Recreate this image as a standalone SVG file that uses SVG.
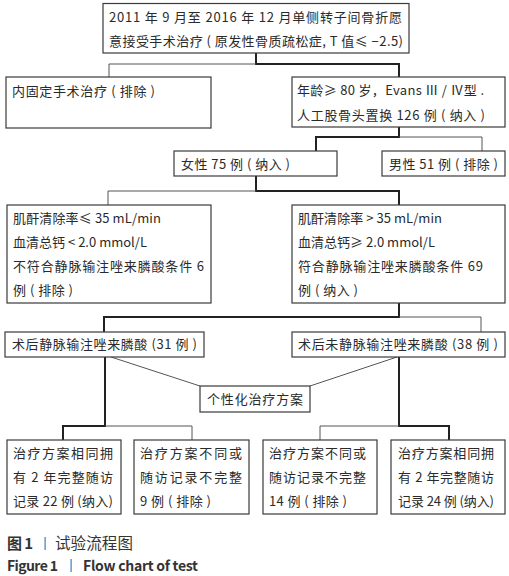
<svg xmlns="http://www.w3.org/2000/svg" width="509" height="576" viewBox="0 0 509 576">
<style>
.box{fill:#fff;stroke:#3a3a3a;stroke-width:1.2}
.t{font-family:"Noto Sans CJK SC","Noto Sans",sans-serif;font-size:13px;fill:#2a2a2a}
.thick{stroke:#222;stroke-width:2;fill:none}
.thin{stroke:#555;stroke-width:1;fill:none}
.cap{font-family:"Noto Sans CJK SC","Noto Sans",sans-serif;fill:#333}
.sep{fill:#3d7fc0}
</style>
<rect width="509" height="576" fill="#fff"/>
<g id="connectors">
<path class="thick" d="M256 53V64H399V77"/>
<path class="thin" d="M256 64H109V77"/>
<path class="thick" d="M399 127V137H316V151"/>
<path class="thin" d="M399 137H482V151"/>
<path class="thick" d="M256 176V191H399V205"/>
<path class="thin" d="M256 191H108V205"/>
<path class="thick" d="M399 303V317H104V332"/>
<path class="thin" d="M399 317H481V332"/>
<path class="thin" d="M111 357L200 386M397 357L310 386"/>
<path class="thick" d="M105 357V426H63V440"/>
<path class="thin" d="M105 426H192V440"/>
<path class="thick" d="M399 357V426H449V440"/>
<path class="thin" d="M399 426H320V440"/>
</g>
<g id="n1">
<rect class="box" x="103" y="3.5" width="306" height="49.5"/>
<text class="t" x="109" y="22" textLength="293" lengthAdjust="spacing">2011 年 9 月至 2016 年 12 月单侧转子间骨折愿</text>
<text class="t" x="109" y="46" textLength="294" lengthAdjust="spacing">意接受手术治疗 ( 原发性骨质疏松症, T 值≤ −2.5)</text>
</g>
<g id="n2">
<rect class="box" x="6" y="77" width="205" height="51"/>
<text class="t" x="12" y="96" textLength="143" lengthAdjust="spacing">内固定手术治疗 ( 排除 )</text>
</g>
<g id="n3">
<rect class="box" x="292" y="77" width="213" height="50"/>
<text class="t" x="297" y="95" textLength="187" lengthAdjust="spacing">年龄≥ 80 岁，Evans Ⅲ / Ⅳ型 .</text>
<text class="t" x="297" y="120" textLength="188" lengthAdjust="spacing">人工股骨头置换 126 例 ( 纳入 )</text>
</g>
<g id="n4">
<rect class="box" x="174" y="151" width="163" height="25"/>
<text class="t" x="181" y="169" textLength="109" lengthAdjust="spacing">女性 75 例 ( 纳入 )</text>
</g>
<g id="n5">
<rect class="box" x="382" y="151" width="123" height="25"/>
<text class="t" x="389" y="169" textLength="109" lengthAdjust="spacing">男性 51 例 ( 排除 )</text>
</g>
<g id="n6">
<rect class="box" x="7" y="205" width="204" height="98"/>
<text class="t" x="13" y="223" textLength="148" lengthAdjust="spacing">肌酐清除率≤ 35 mL/min</text>
<text class="t" x="13" y="247" textLength="134" lengthAdjust="spacing">血清总钙 &lt; 2.0 mmol/L</text>
<text class="t" x="13" y="271" textLength="191" lengthAdjust="spacing">不符合静脉输注唑来膦酸条件 6</text>
<text class="t" x="13" y="295" textLength="60" lengthAdjust="spacing">例 ( 排除 )</text>
</g>
<g id="n7">
<rect class="box" x="292" y="205" width="213" height="98"/>
<text class="t" x="298" y="223" textLength="144" lengthAdjust="spacing">肌酐清除率 &gt; 35 mL/min</text>
<text class="t" x="298" y="247" textLength="137" lengthAdjust="spacing">血清总钙≥ 2.0 mmol/L</text>
<text class="t" x="298" y="271" textLength="185" lengthAdjust="spacing">符合静脉输注唑来膦酸条件 69</text>
<text class="t" x="298" y="295" textLength="60" lengthAdjust="spacing">例 ( 纳入 )</text>
</g>
<g id="n8">
<rect class="box" x="5" y="332" width="199" height="25"/>
<text class="t" x="12" y="349" textLength="185" lengthAdjust="spacing">术后静脉输注唑来膦酸 (31 例 )</text>
</g>
<g id="n9">
<rect class="box" x="292" y="332" width="213" height="25"/>
<text class="t" x="298" y="349" textLength="200" lengthAdjust="spacing">术后未静脉输注唑来膦酸 (38 例 )</text>
</g>
<g id="n10">
<rect class="box" x="200" y="386" width="110" height="26"/>
<text class="t" x="207" y="404" textLength="96" lengthAdjust="spacing">个性化治疗方案</text>
</g>
<g id="n11">
<rect class="box" x="7" y="440" width="114" height="74"/>
<text class="t" x="13" y="458" textLength="100" lengthAdjust="spacing">治疗方案相同拥</text>
<text class="t" x="13" y="482" textLength="100" lengthAdjust="spacing">有 2 年完整随访</text>
<text class="t" x="13" y="506" textLength="100" lengthAdjust="spacing">记录 22 例 (纳入)</text>
</g>
<g id="n12">
<rect class="box" x="134" y="440" width="115" height="74"/>
<text class="t" x="140" y="458" textLength="102" lengthAdjust="spacing">治疗方案不同或</text>
<text class="t" x="140" y="482" textLength="102" lengthAdjust="spacing">随访记录不完整</text>
<text class="t" x="140" y="506" textLength="71" lengthAdjust="spacing">9 例 ( 排除 )</text>
</g>
<g id="n13">
<rect class="box" x="263" y="440" width="114" height="74"/>
<text class="t" x="269" y="458" textLength="97" lengthAdjust="spacing">治疗方案不同或</text>
<text class="t" x="269" y="482" textLength="97" lengthAdjust="spacing">随访记录不完整</text>
<text class="t" x="269" y="506" textLength="78" lengthAdjust="spacing">14 例 ( 排除 )</text>
</g>
<g id="n14">
<rect class="box" x="391" y="440" width="114" height="74"/>
<text class="t" x="398" y="458" textLength="96" lengthAdjust="spacing">治疗方案相同拥</text>
<text class="t" x="398" y="482" textLength="96" lengthAdjust="spacing">有 2 年完整随访</text>
<text class="t" x="398" y="506" textLength="96" lengthAdjust="spacing">记录 24 例 (纳入)</text>
</g>
<g id="caption">
<text class="cap" x="7" y="549" font-size="15" font-weight="bold" textLength="26" lengthAdjust="spacing">图 1</text>
<rect class="sep" x="44.5" y="537" width="1.2" height="13"/>
<text class="cap" x="55" y="549" font-size="15.5" textLength="78" lengthAdjust="spacing">试验流程图</text>
<text class="cap" x="7" y="571" font-size="14" font-weight="bold" textLength="51" lengthAdjust="spacing">Figure 1</text>
<rect class="sep" x="70.5" y="559" width="1.2" height="13"/>
<text class="cap" x="83" y="571" font-size="14" font-weight="bold" textLength="115" lengthAdjust="spacing">Flow chart of test</text>
</g>
</svg>
